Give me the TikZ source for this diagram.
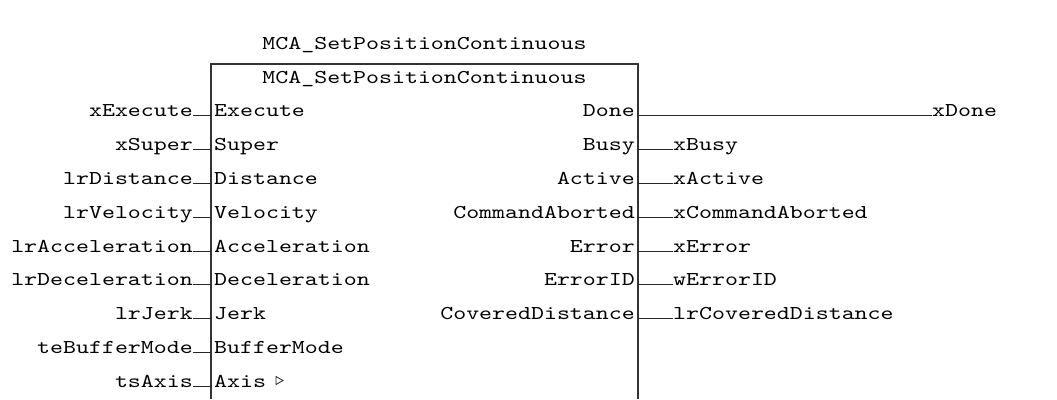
\documentclass[tikz,border=0pt]{standalone}
\usepackage{fontspec}
\setmonofont[FakeStretch=1.26]{lmmono10-regular.otf}
\begin{document}
\begin{tikzpicture}[x=1pt,y=-1pt,
  lbl/.style={font=\ttfamily\fontsize{19.6pt}{22pt}\selectfont, text=black, inner sep=0pt},
  inl/.style={lbl, anchor=base east},
  pinl/.style={lbl, anchor=base west},
  poutl/.style={lbl, anchor=base east},
  outl/.style={lbl, anchor=base west},
  wire/.style={line width=1pt, black!85},
  boxline/.style={line width=1.5pt, black!80}]
\useasboundingbox (0,0) rectangle (1057,399);
\fill[white] (0,0) rectangle (1057,399);
% block
\coordinate (bl) at (211,399);
\coordinate (tl) at (211,64);
\coordinate (tr) at (638,64);
\coordinate (br) at (638,399);
\draw[boxline] (bl) -- (tl) -- (tr) -- (br);
\node[lbl, anchor=base] (inst) at (424.5,49) {MCA\_SetPositionContinuous};
\node[lbl, anchor=base] (type) at (424.5,83) {MCA\_SetPositionContinuous};
% inputs
\foreach \v/\p/\y [count=\i] in {xExecute/Execute/116, xSuper/Super/150, lrDistance/Distance/184, lrVelocity/Velocity/218, lrAcceleration/Acceleration/252, lrDeceleration/Deceleration/285, lrJerk/Jerk/319, teBufferMode/BufferMode/353, tsAxis/Axis/387}{
  \node[pinl] (pin\i) at (214,\y) {\p};
  \node[inl] (vin\i) at (193,\y) {\v};
  \coordinate (cin\i) at (211,\y-1);
  \draw[wire] ([yshift=1pt]vin\i.base east) -- (cin\i);
}
% axis marker
\coordinate (tri) at (276,376.5);
\draw[line width=0.8pt, black!85] (tri) -- (283,380.5) -- (276,384.5) -- cycle;
% outputs
\foreach \p/\v/\y [count=\i] in {Busy/xBusy/150, Active/xActive/184, CommandAborted/xCommandAborted/218, Error/xError/252, ErrorID/wErrorID/285, CoveredDistance/lrCoveredDistance/319}{
  \node[poutl] (pout\i) at (635,\y) {\p};
  \node[outl] (vout\i) at (673,\y) {\v};
  \coordinate (cout\i) at (638,\y-1);
  \draw[wire] (cout\i) -- ([yshift=1pt]vout\i.base west);
}
\node[poutl] (pdone) at (635,116) {Done};
\node[outl] (vdone) at (932,116) {xDone};
\coordinate (cdone) at (638,115);
\draw[wire] (cdone) -- ([yshift=1pt]vdone.base west);
\end{tikzpicture}
\end{document}
